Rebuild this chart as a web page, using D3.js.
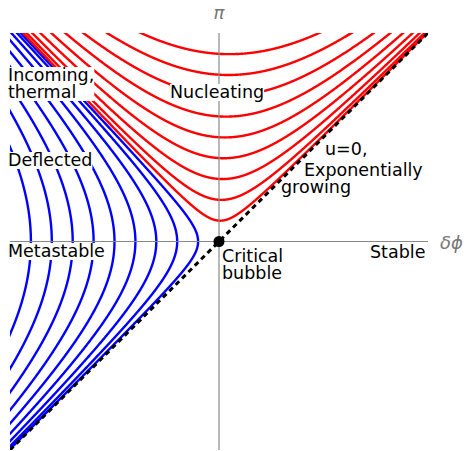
<!DOCTYPE html>
<html>
<head>
<meta charset="utf-8">
<script src="https://cdn.jsdelivr.net/npm/d3@7/dist/d3.min.js"></script>
<style>
  html, body { margin: 0; padding: 0; background: #fff; }
  svg { display: block; }
  text { font-family: "DejaVu Sans", sans-serif; }
</style>
</head>
<body>
<svg id="chart" width="464" height="451"></svg>
<script>
// Phase plane of the fluctuation about the critical bubble.
// Trajectories are labelled by where they cross an axis.
const nucleatingPi = [0.1, 0.2, 0.3, 0.4, 0.5, 0.6, 0.7, 0.8, 0.9];      // red: pi at delta-phi = 0
const deflectedPhi = [-0.1, -0.2, -0.3, -0.4, -0.5, -0.6, -0.7, -0.8, -0.9]; // blue: delta-phi at pi = 0
const damping = 0.06;                 // friction term in d(pi)/dt
const stiffness = 1 + damping;        // keeps the growing mode along pi = delta-phi
const phiDomain = [-1, 1];
const piDomain = [-1, 1];

const labels = [
  { lines: ["Incoming,", "thermal"], x: 8, y: 81, bg: true },
  { lines: ["Nucleating"], x: 170, y: 98, bg: true },
  { lines: ["Deflected"], x: 8, y: 166, bg: true },
  { lines: ["Metastable"], x: 8, y: 257, bg: true },
  { lines: ["Critical", "bubble"], x: 222, y: 262, bg: false },
  { lines: ["Stable"], x: 370, y: 258, bg: false },
  { lines: ["u=0,"], x: 325, y: 155, bg: false },
  { lines: ["Exponentially"], x: 304, y: 176, bg: false },
  { lines: ["growing"], x: 281, y: 193, bg: false }
];

const svg = d3.select("#chart");
const plot = { left: 10, right: 428, top: 33, bottom: 450 };

const x = d3.scaleLinear().domain(phiDomain).range([plot.left, plot.right]);
const y = d3.scaleLinear().domain(piDomain).range([plot.bottom, plot.top]);

svg.append("defs").append("clipPath").attr("id", "plotClip")
  .append("rect")
  .attr("x", plot.left).attr("y", plot.top)
  .attr("width", plot.right - plot.left).attr("height", plot.bottom - plot.top);

// Linear flow: d(phi)/dt = pi, d(pi)/dt = k*phi - g*pi
function field(s) {
  return [s[1], stiffness * s[0] - damping * s[1]];
}
function rk4(s, h) {
  const k1 = field(s);
  const k2 = field([s[0] + h / 2 * k1[0], s[1] + h / 2 * k1[1]]);
  const k3 = field([s[0] + h / 2 * k2[0], s[1] + h / 2 * k2[1]]);
  const k4 = field([s[0] + h * k3[0], s[1] + h * k3[1]]);
  return [
    s[0] + h / 6 * (k1[0] + 2 * k2[0] + 2 * k3[0] + k4[0]),
    s[1] + h / 6 * (k1[1] + 2 * k2[1] + 2 * k3[1] + k4[1])
  ];
}
function trajectory(start) {
  const run = (h) => {
    const pts = [];
    let s = start.slice();
    for (let i = 0; i < 40000; i++) {
      s = rk4(s, h);
      pts.push(s);
      if (Math.abs(s[0]) > 1.08 || Math.abs(s[1]) > 1.08) break;
    }
    return pts;
  };
  const back = run(-0.002).reverse();
  const fwd = run(0.002);
  return back.concat([start], fwd);
}

const line = d3.line().x(d => x(d[0])).y(d => y(d[1]));

const curves = svg.append("g").attr("clip-path", "url(#plotClip)");

// axes
svg.append("line")
  .attr("x1", x(0)).attr("x2", x(0)).attr("y1", plot.top).attr("y2", plot.bottom)
  .attr("stroke", "#888").attr("stroke-width", 1.2);
svg.append("line")
  .attr("x1", plot.left).attr("x2", plot.right).attr("y1", y(0)).attr("y2", y(0))
  .attr("stroke", "#888").attr("stroke-width", 1.2);

curves.selectAll("path.deflected")
  .data(deflectedPhi.map(v => trajectory([v, 0])))
  .join("path")
  .attr("class", "deflected")
  .attr("d", line)
  .attr("fill", "none").attr("stroke", "#0000ff").attr("stroke-width", 2.4);

curves.selectAll("path.nucleating")
  .data(nucleatingPi.map(v => trajectory([0, v])))
  .join("path")
  .attr("class", "nucleating")
  .attr("d", line)
  .attr("fill", "none").attr("stroke", "#ff0000").attr("stroke-width", 2.4);

// unstable direction u = 0
curves.append("line")
  .attr("x1", x(-1)).attr("y1", y(-1)).attr("x2", x(1)).attr("y2", y(1))
  .attr("stroke", "#000").attr("stroke-width", 3).attr("stroke-dasharray", "5,4");

// critical bubble
svg.append("circle").attr("cx", x(0)).attr("cy", y(0)).attr("r", 5.5).attr("fill", "#000");

// axis names
svg.append("text").attr("x", x(0)).attr("y", 19).attr("text-anchor", "middle")
  .attr("font-size", 18).attr("font-style", "italic").attr("fill", "#777").text("π");
svg.append("text").attr("x", 440).attr("y", 249)
  .attr("font-size", 18).attr("font-style", "italic").attr("fill", "#777").text("δϕ");

// region labels
const fontSize = 17.5, lineGap = 17;
labels.forEach(l => {
  const g = svg.append("g");
  const t = g.append("text").attr("font-size", fontSize).attr("fill", "#000");
  l.lines.forEach((s, i) => {
    t.append("tspan").attr("x", l.x).attr("y", l.y + i * lineGap).text(s);
  });
  if (l.bg) {
    const b = t.node().getBBox();
    g.insert("rect", "text")
      .attr("x", b.x).attr("y", b.y + 2).attr("width", b.width).attr("height", b.height - 3)
      .attr("fill", "#fff");
  }
});
</script>
</body>
</html>
